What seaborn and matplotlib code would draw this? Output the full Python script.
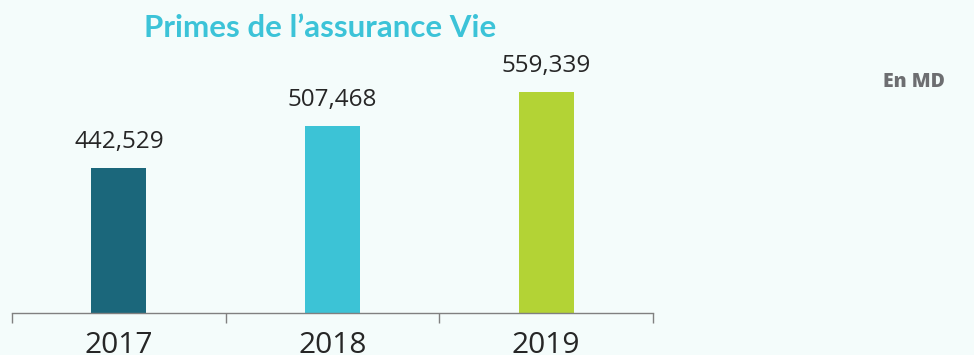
import matplotlib
matplotlib.use("Agg")
import matplotlib.pyplot as plt
import seaborn as sns
import pandas as pd

# Life-insurance premiums per year (MD)
years = ["2017", "2018", "2019"]
premiums = [442.529, 507.468, 559.339]
value_labels = ["442,529", "507,468", "559,339"]
bar_colors = ["#1b677b", "#3cc3d6", "#b3d335"]

title = "Primes de l\u2019assurance Vie"
unit_label = "En MD"

bg = "#f4fcfb"

sns.set_theme(style="white")
plt.rcParams["font.family"] = ["Open Sans", "DejaVu Sans"]

df = pd.DataFrame({"year": years, "premium": premiums})

fig = plt.figure(figsize=(9.74, 3.55), dpi=100, facecolor=bg)
ax = fig.add_axes([12 / 974, 42 / 355, 641 / 974, 273 / 355])
ax.set_facecolor(bg)

sns.barplot(data=df, x="year", y="premium", hue="year",
            palette=bar_colors, width=0.257, legend=False, ax=ax,
            saturation=1, linewidth=0)

ax.set_xlim(-0.5, 2.5)
ax.set_ylim(220, 639)

for i, (v, txt) in enumerate(zip(premiums, value_labels)):
    ax.annotate(txt, (i, v), xytext=(0, 10), textcoords="offset points",
                ha="center", va="bottom", fontsize=17.5, color="#262626")

for side in ["top", "right", "left"]:
    ax.spines[side].set_visible(False)
ax.spines["bottom"].set_color("#808080")
ax.spines["bottom"].set_linewidth(1.0)

ax.set_yticks([])
ax.set_xticks([0, 1, 2])
ax.set_xticklabels(years, fontsize=21.5, color="#262626")
ax.set_xticks([-0.5, 0.5, 1.5, 2.5], minor=True)
ax.tick_params(axis="x", which="major", length=0, pad=13)
ax.tick_params(axis="x", which="minor", length=7, width=1, color="#808080",
               direction="out", bottom=True)
ax.set_xlabel("")
ax.set_ylabel("")

fig.text(320 / 974, 1 - 28 / 355, title, ha="center", va="center",
         fontsize=22.5, fontweight="bold", color="#3cc3d8", family=["Lato", "DejaVu Sans"])
fig.text(945 / 974, 1 - 82 / 355, unit_label, ha="right", va="center",
         fontsize=14, fontweight="heavy", color="#6d6e71", family=["Open Sans", "DejaVu Sans"])

fig.savefig("out.png", dpi=100, facecolor=bg)
